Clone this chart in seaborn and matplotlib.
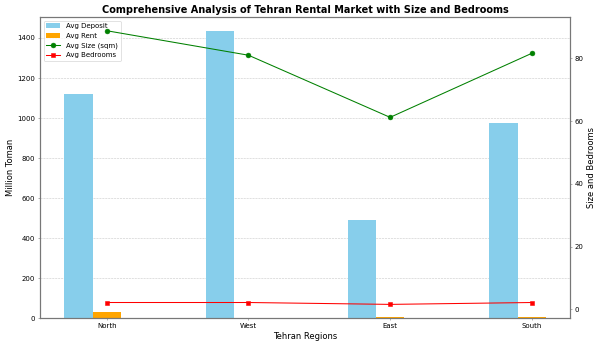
import matplotlib
matplotlib.use("Agg")
import matplotlib.pyplot as plt
import seaborn as sns
import numpy as np
import pandas as pd

regions = ["North", "West", "East", "South"]
avg_deposit = [1118, 1433, 488, 975]
avg_rent = [28, 1, 7, 4]
avg_size = [88.8, 81.0, 61.2, 81.6]
avg_bedrooms = [2.2, 2.2, 1.6, 2.2]

pos = np.arange(len(regions))
width = 0.2

fig, ax = plt.subplots(figsize=(12, 6.96), dpi=50)

sns.barplot(x=pos - width, y=avg_deposit, native_scale=True, width=width,
            color="skyblue", saturation=1, ax=ax, label="Avg Deposit", errorbar=None)
sns.barplot(x=pos.astype(float), y=avg_rent, native_scale=True, width=width,
            color="orange", saturation=1, ax=ax, label="Avg Rent", errorbar=None)
ax.set_ylabel("Million Toman", fontsize=12)
ax.set_xlabel("Tehran Regions", fontsize=12)
ax.set_xticks(pos)
ax.set_xticklabels(regions, fontsize=10)
ax.tick_params(axis="y", labelsize=10)
ax.grid(axis="y", linestyle="--", alpha=0.7)
ax.set_axisbelow(True)

ax2 = ax.twinx()
sns.lineplot(x=pos, y=avg_size, color="green", marker="o", markersize=7,
             markeredgecolor="green", ax=ax2, label="Avg Size (sqm)")
sns.lineplot(x=pos, y=avg_bedrooms, color="red", marker="s", markersize=7,
             markeredgecolor="red", ax=ax2, label="Avg Bedrooms")
ax2.set_ylabel("Size and Bedrooms", fontsize=12)
ax2.tick_params(axis="y", labelsize=10)
if ax2.get_legend():
    ax2.get_legend().remove()
if ax.get_legend():
    ax.get_legend().remove()

for a in (ax, ax2):
    for s in a.spines.values():
        s.set_edgecolor("#777777")
        s.set_linewidth(1.6)
    a.tick_params(color="#777777")

h1, l1 = ax.get_legend_handles_labels()
h2, l2 = ax2.get_legend_handles_labels()
ax.legend(h1 + h2, l1 + l2, loc="upper left", fontsize=10)

ax.set_xlim(-0.47, 3.27)
ax.set_title("Comprehensive Analysis of Tehran Rental Market with Size and Bedrooms",
             fontsize=14, fontweight="bold")
fig.subplots_adjust(left=0.067, right=0.95, top=0.951, bottom=0.086)
fig.savefig("out.png", dpi=50)
